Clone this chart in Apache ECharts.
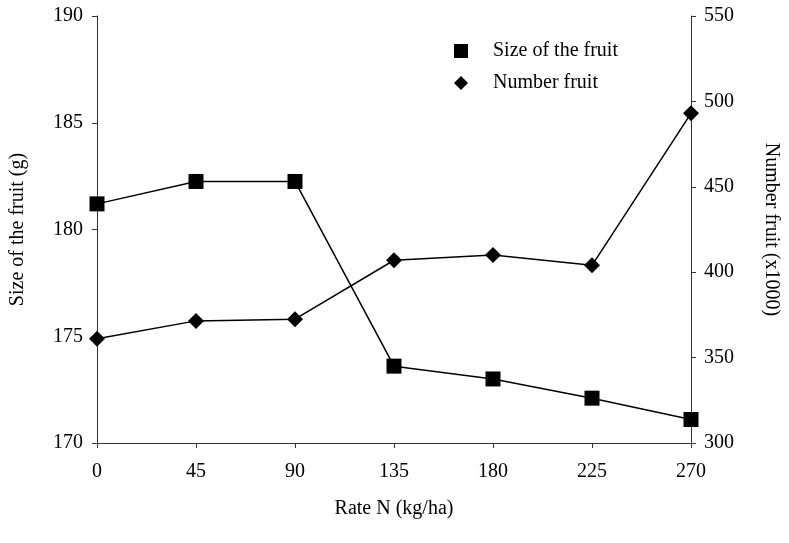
<!DOCTYPE html>
<html>
<head>
<meta charset="utf-8">
<script src="https://cdn.jsdelivr.net/npm/echarts@6/dist/echarts.min.js"></script>
<style>
  html, body { margin: 0; padding: 0; background: #fff; }
  #chart { width: 789px; height: 543px; }
</style>
</head>
<body>
<div id="chart"></div>
<script>
// Rate N (kg/ha)
const rates = ['0', '45', '90', '135', '180', '225', '270']
// fruit size (g), left axis
const sizeFruit = [181.2, 182.25, 182.25, 173.6, 173.0, 172.1, 171.1]
// number of fruits (x1000), right axis
const numberFruit = [361, 371.5, 372.5, 407, 410, 404, 493]

const FONT = 'Liberation Serif'
const INK = '#000'
const AXIS = '#333'
const FS = 20

const chart = echarts.init(document.getElementById('chart'), null, { renderer: 'canvas' })

const axisCommon = {
  axisLine: { show: true, lineStyle: { color: AXIS, width: 1 } },
  axisTick: { show: true, inside: false, length: 5, lineStyle: { color: AXIS } },
  axisLabel: { color: INK, fontFamily: FONT, fontSize: FS },
  splitLine: { show: false },
  nameTextStyle: { color: INK, fontFamily: FONT, fontSize: FS },
}

chart.setOption({
  animation: false,
  backgroundColor: '#fff',
  grid: { left: 97, right: 95, top: 16, bottom: 100 },
  legend: {
    orient: 'vertical',
    left: 449,
    top: 36,
    itemWidth: 14,
    itemHeight: 14,
    itemGap: 12,
    textStyle: { color: INK, fontFamily: FONT, fontSize: FS, padding: [0, 0, 0, 20] },
    data: [
      { name: 'Size of the fruit', icon: 'rect' },
      { name: 'Number fruit', icon: 'diamond' },
    ],
  },
  xAxis: {
    ...axisCommon,
    type: 'category',
    data: rates,
    boundaryGap: false,
    name: 'Rate N (kg/ha)',
    nameLocation: 'middle',
    nameGap: 56,
    axisTick: { ...axisCommon.axisTick, alignWithLabel: true },
    axisLabel: { ...axisCommon.axisLabel, margin: 19 },
  },
  yAxis: [
    {
      ...axisCommon,
      type: 'value',
      min: 170,
      max: 190,
      interval: 5,
      name: 'Size of the fruit (g)',
      nameLocation: 'middle',
      nameGap: 69,
      axisLabel: { ...axisCommon.axisLabel, margin: 14 },
    },
    {
      ...axisCommon,
      type: 'value',
      position: 'right',
      min: 300,
      max: 550,
      interval: 50,
      name: 'Number fruit (x1000)',
      nameLocation: 'middle',
      nameGap: 70,
      nameRotate: -90,
      axisLabel: { ...axisCommon.axisLabel, margin: 13 },
    },
  ],
  series: [
    {
      name: 'Size of the fruit',
      type: 'line',
      yAxisIndex: 0,
      data: sizeFruit,
      symbol: 'rect',
      symbolSize: 15,
      itemStyle: { color: INK },
      lineStyle: { color: INK, width: 1.5 },
    },
    {
      name: 'Number fruit',
      type: 'line',
      yAxisIndex: 1,
      data: numberFruit,
      symbol: 'diamond',
      symbolSize: 16,
      itemStyle: { color: INK },
      lineStyle: { color: INK, width: 1.5 },
    },
  ],
})
</script>
</body>
</html>
